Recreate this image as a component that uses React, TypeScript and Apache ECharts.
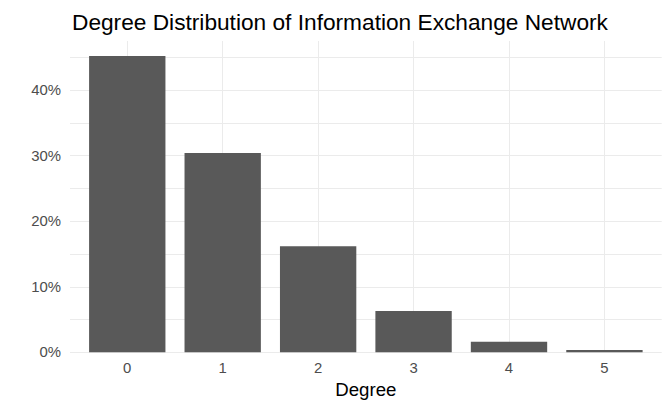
import React, { useEffect, useRef } from "react";
import * as echarts from "echarts";

const titleText = "Degree Distribution of Information Exchange Network";
const xTitle = "Degree";
const degrees = [0, 1, 2, 3, 4, 5];
const shares = [45.2, 30.4, 16.2, 6.3, 1.6, 0.35];
const yLabelTicks = [0, 10, 20, 30, 40];

const FONT = "Liberation Sans, Arial, sans-serif";

export default function App() {
  const ref = useRef<HTMLDivElement>(null);
  useEffect(() => {
    const chart = echarts.init(ref.current!, null, { renderer: "svg" });
    chart.setOption({
      animation: false,
      title: {
        text: titleText,
        left: 67,
        top: 5,
        textStyle: { fontFamily: FONT, fontSize: 22.7, fontWeight: "normal", color: "#000000" },
      },
      grid: { left: 70, right: 10.3, top: 41, bottom: 56.7, containLabel: false },
      xAxis: {
        type: "value",
        min: -0.6,
        max: 5.6,
        name: xTitle,
        nameLocation: "middle",
        nameGap: 27,
        nameTextStyle: { fontFamily: FONT, fontSize: 18.67, color: "#000000" },
        axisLine: { show: false },
        axisTick: { show: false },
        splitLine: { show: false },
        axisLabel: {
          customValues: degrees,
          margin: 8,
          color: "#4D4D4D",
          fontFamily: FONT,
          fontSize: 14.9,
          formatter: (v: number) => String(v),
        },
      },
      yAxis: {
        type: "value",
        min: 0,
        max: 47.5,
        interval: 5,
        axisLine: { show: false },
        axisTick: { show: false },
        axisLabel: {
          margin: 9,
          color: "#4D4D4D",
          fontFamily: FONT,
          fontSize: 14.9,
          formatter: (v: number) => (yLabelTicks.includes(Math.round(v * 100) / 100) ? `${v}%` : ""),
        },
        splitLine: { show: true, showMaxLine: false, lineStyle: { color: "#EBEBEB", width: 1 } },
      },
      series: [
        {
          type: "line",
          data: [],
          z: 1,
          silent: true,
          markLine: {
            z: 1,
            silent: true,
            symbol: "none",
            label: { show: false },
            lineStyle: { color: "#EBEBEB", width: 1, type: "solid" },
            data: degrees.map((d) => ({ xAxis: d })),
          },
        },
        {
          type: "bar",
          data: degrees.map((d, i) => [d, shares[i]]),
          barWidth: "80%",
          z: 3,
          itemStyle: { color: "#595959" },
        },
      ],
    });
    return () => chart.dispose();
  }, []);
  return <div ref={ref} style={{ width: 672, height: 409, position: "absolute", left: 0, top: 0 }} />;
}
